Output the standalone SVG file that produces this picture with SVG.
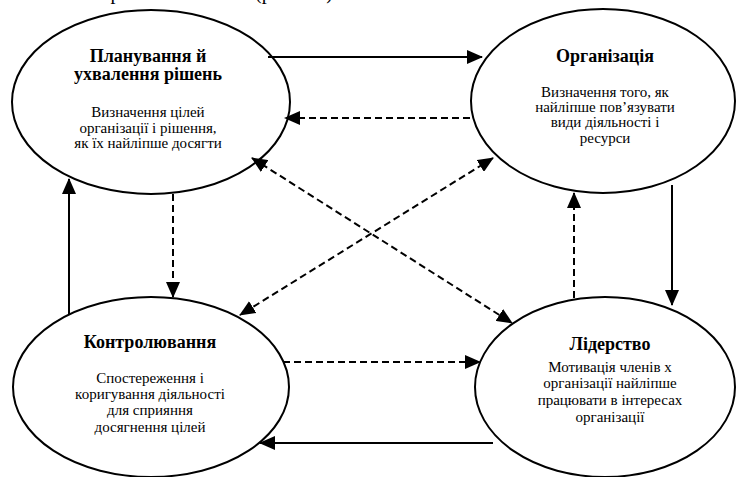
<svg xmlns="http://www.w3.org/2000/svg" width="736" height="477" viewBox="0 0 736 477">
<defs>
<marker id="ah" markerUnits="userSpaceOnUse" markerWidth="16" markerHeight="14" refX="15" refY="7" orient="auto-start-reverse" viewBox="0 0 16 14">
<path d="M0,0 L16,7 L0,14 Z" fill="#000"/>
</marker>
</defs>
<rect width="736" height="477" fill="#fff"/>
<g font-family="Liberation Serif" font-size="20" fill="#000">
<text x="96" y="-1">Прийняття</text>
<text x="255" y="-1">(рис. 1.2)</text>
</g>
<g font-family="Liberation Serif" text-anchor="middle" fill="#000" stroke-width="2">
<g id="planning">
<ellipse cx="151" cy="102" rx="139" ry="92" fill="#fff" stroke="#000"/>
<g font-weight="bold" font-size="18">
<text x="148" y="62">Планування й</text>
<text x="148" y="80">ухвалення рішень</text>
</g>
<g font-size="15">
<text x="148" y="117">Визначення цілей</text>
<text x="148" y="133">організації і рішення,</text>
<text x="148" y="148">як їх найліпше досягти</text>
</g>
</g>
<g id="organization">
<ellipse cx="603" cy="101" rx="132" ry="92" fill="#fff" stroke="#000"/>
<text x="605" y="62" font-weight="bold" font-size="18">Організація</text>
<g font-size="15">
<text x="605" y="97">Визначення того, як</text>
<text x="605" y="112">найліпше пов’язувати</text>
<text x="605" y="127">види діяльності і</text>
<text x="605" y="143">ресурси</text>
</g>
</g>
<g id="control">
<ellipse cx="151" cy="387" rx="138" ry="90" fill="#fff" stroke="#000"/>
<text x="150" y="348" font-weight="bold" font-size="18">Контролювання</text>
<g font-size="15">
<text x="150" y="383">Спостереження і</text>
<text x="150" y="399">коригування діяльності</text>
<text x="150" y="415">для сприяння</text>
<text x="150" y="432">досягнення цілей</text>
</g>
</g>
<g id="leadership">
<ellipse cx="605" cy="387" rx="130" ry="90" fill="#fff" stroke="#000"/>
<text x="610" y="350" font-weight="bold" font-size="18">Лідерство</text>
<g font-size="15">
<text x="610" y="372">Мотивація членів х</text>
<text x="610" y="388">організації найліпше</text>
<text x="610" y="405">працювати в інтересах</text>
<text x="610" y="422">організації</text>
</g>
</g>
</g>
<g id="connectors" stroke="#000" stroke-width="2" fill="none" marker-end="url(#ah)">
<g>
<line x1="268" y1="57" x2="482" y2="57"/>
<line x1="69" y1="315" x2="69" y2="179"/>
<line x1="672" y1="185" x2="672" y2="305"/>
<line x1="493" y1="443" x2="260" y2="443"/>
</g>
<g stroke-dasharray="7,4">
<line x1="470" y1="118" x2="285" y2="118"/>
<line x1="173" y1="194" x2="173" y2="297"/>
<line x1="574" y1="298" x2="574" y2="193"/>
<line x1="283" y1="362" x2="480" y2="362"/>
<line x1="252" y1="158" x2="512" y2="323" marker-start="url(#ah)"/>
<line x1="493" y1="158" x2="240" y2="315" marker-start="url(#ah)"/>
</g>
</g>
</svg>
